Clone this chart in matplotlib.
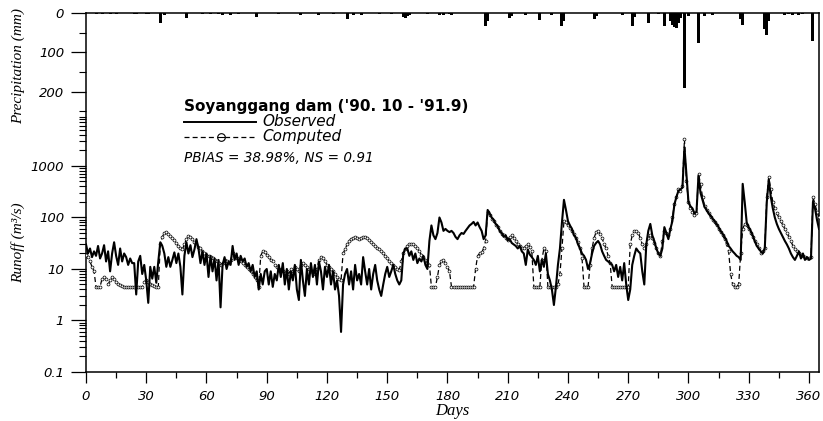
import numpy as np
import matplotlib
matplotlib.use("Agg")
import matplotlib.pyplot as plt
from matplotlib.lines import Line2D
from matplotlib.ticker import FixedLocator, NullFormatter, FixedFormatter

# ---------------- data ----------------
days = list(range(0, 366))

observed = [
    30, 20, 25, 17, 22, 18, 28, 16, 20, 29,
    14, 22, 9, 20, 33, 18, 12, 25, 14, 20,
    17, 12, 16, 13, 13, 3.2, 14, 18, 8, 12,
    6, 2.2, 11, 6.5, 11, 5.4, 14, 33, 28, 20,
    11, 17, 11, 15, 21, 13, 20, 11, 3.2, 18,
    33, 20, 29, 17, 24, 38, 25, 13, 22, 12,
    20, 7, 18, 9, 16, 6, 15, 1.8, 12, 17,
    10, 14, 12, 28, 15, 20, 12, 18, 14, 16,
    11, 13, 9, 12, 7, 9, 4, 8, 5, 9,
    10, 5, 9, 4.5, 8, 6, 12, 7, 13, 5,
    10, 4, 9, 6, 12, 4, 2.5, 15, 6, 3,
    10, 5, 13, 7, 12, 5, 14, 9, 4, 11,
    7, 12, 5, 9, 4, 6, 3, 0.6, 5, 8,
    10, 5, 9, 4, 12, 6, 8, 5, 17, 9,
    5, 10, 4, 8, 12, 6, 4, 3, 5, 8,
    11, 7, 9, 12, 8, 6, 5, 6, 20, 25,
    25, 18, 22, 15, 20, 13, 16, 14, 18, 12,
    10, 35, 70, 45, 38, 50, 100, 80, 55, 60,
    55, 52, 55, 50, 42, 38, 45, 50, 48, 55,
    62, 70, 75, 82, 70, 80, 65, 55, 38, 45,
    140, 120, 100, 90, 75, 68, 55, 50, 42, 45,
    36, 38, 32, 30, 28, 25, 28, 22, 20, 12,
    24, 19, 17, 15, 12, 18, 9, 15, 11, 20,
    8, 6, 4, 2, 4.5, 12, 25, 80, 220, 140,
    85, 70, 60, 45, 40, 30, 25, 20, 18, 15,
    10, 13, 20, 28, 32, 35, 30, 22, 18, 15,
    14, 13, 12, 9, 12, 7, 11, 6, 13, 5,
    2.5, 4, 12, 18, 25, 22, 20, 9, 5, 30,
    55, 75, 45, 35, 25, 20, 18, 25, 65, 50,
    38, 60, 85, 180, 250, 330, 350, 380, 2300, 700,
    200, 165, 150, 120, 130, 650, 300, 220, 160, 140,
    120, 110, 95, 85, 75, 65, 55, 48, 42, 35,
    28, 25, 22, 20, 18, 17, 15, 450, 200, 80,
    65, 55, 45, 35, 28, 25, 22, 20, 25, 200,
    550, 250, 150, 100, 75, 60, 50, 42, 35, 30,
    25, 20, 17, 15, 18, 22, 16, 20, 15, 17,
    15, 16, 200, 150, 90, 60,
]

computed = [
    19, 17, 14, 11, 9, 4.5, 4.5, 4.5, 6.5, 7,
    6.5, 5, 6, 7, 6.5, 5.5, 5, 4.8, 4.6, 4.5,
    4.5, 4.5, 4.5, 4.5, 4.5, 4.5, 4.5, 4.5, 4.5, 5.5,
    6, 5.5, 5, 4.8, 4.6, 4.5, 4.5, 30, 42, 50,
    52, 48, 44, 40, 36, 32, 28, 25, 24, 30,
    38, 43, 42, 38, 34, 30, 27, 25, 22, 20,
    19, 18, 17, 16, 15, 14, 13, 12, 13, 15,
    14, 13, 15, 20, 17, 16, 15, 14, 13, 12,
    11, 10, 9, 8, 7, 6, 4.5, 18, 22, 21,
    19, 17, 15, 14, 12, 11, 10, 9.5, 9, 8.5,
    9, 8, 10, 9, 11, 10, 9, 12, 13, 12,
    11, 10, 9, 8.5, 8, 10, 15, 17, 16, 14,
    12, 11, 10, 9, 8, 7, 6.5, 6, 20, 24,
    30, 35, 38, 40, 42, 40, 38, 40, 42, 42,
    40, 37, 34, 31, 28, 26, 24, 22, 20, 18,
    16, 14, 13, 12, 11, 10, 9.5, 14, 20, 24,
    28, 30, 31, 30, 28, 25, 22, 19, 17, 15,
    13, 12, 4.5, 4.5, 4.5, 7, 12, 14, 15, 13,
    11, 9, 4.5, 4.5, 4.5, 4.5, 4.5, 4.5, 4.5, 4.5,
    4.5, 4.5, 4.5, 4.5, 10, 18, 20, 21, 25, 35,
    130, 110, 95, 85, 72, 65, 55, 48, 45, 40,
    37, 42, 45, 40, 35, 30, 28, 26, 25, 28,
    30, 27, 22, 4.5, 4.5, 4.5, 4.5, 15, 25, 22,
    4.5, 4.5, 4.5, 4.5, 4.5, 5, 8, 25, 85, 80,
    70, 62, 55, 48, 40, 33, 25, 16, 4.5, 4.5,
    4.5, 12, 25, 40, 52, 55, 48, 40, 30, 25,
    18, 13, 4.5, 4.5, 4.5, 4.5, 4.5, 4.5, 4.5, 4.5,
    4.5, 30, 45, 55, 55, 50, 40, 30, 25, 30,
    40, 45, 40, 32, 25, 20, 18, 35, 55, 50,
    45, 60, 100, 180, 250, 350, 320, 400, 3300, 500,
    200, 150, 130, 110, 120, 700, 450, 250, 170, 140,
    120, 100, 90, 80, 70, 60, 52, 45, 38, 30,
    22, 8, 5, 4.5, 4.5, 5, 20, 60, 75, 70,
    60, 50, 42, 35, 30, 25, 20, 22, 25, 250,
    600, 350, 200, 150, 120, 100, 85, 70, 60, 50,
    42, 35, 28, 24, 22, 20, 19, 18, 17, 16,
    16, 17, 250, 180, 130, 100,
]

precip_days = [5, 8, 12, 15, 24, 25, 30, 31, 37, 39, 50, 58, 62, 66, 68, 72, 76,
               85, 96, 107, 116, 123, 130, 133, 137, 146, 152, 158, 159, 160,
               161, 170, 176, 178, 181, 182, 199, 200, 211, 212, 219, 226, 232,
               237, 238, 253, 254, 267, 272, 273, 280, 285, 288, 291, 292, 293,
               294, 295, 296, 298, 300, 305, 308, 312, 326, 327, 338, 339, 340,
               348, 350, 352, 355, 357, 362]
precip_mm = [2, 2, 2, 2, 3, 3, 3, 3, 25, 5, 13, 2, 2, 3, 4, 4, 2,
             11, 2, 4, 5, 2, 15, 4, 6, 2, 2, 10, 13, 8,
             6, 3, 4, 5, 3, 4, 34, 20, 13, 8, 5, 17, 4,
             32, 20, 15, 8, 4, 34, 10, 25, 3, 32, 20, 30, 35,
             38, 25, 12, 190, 8, 77, 8, 5, 15, 30, 40, 56, 20,
             4, 3, 5, 4, 3, 70]

x_ticks = [0, 30, 60, 90, 120, 150, 180, 210, 240, 270, 300, 330, 360]
runoff_ticks = [0.1, 1, 10, 100, 1000]
runoff_labels = ["0.1", "1", "10", "100", "1000"]
precip_ticks = [0, 100, 200]
precip_labels = ["0", "100", "200"]

# ---------------- figure ----------------
W, H = 823, 421
fig = plt.figure(figsize=(W / 100, H / 100), dpi=100)
fig.patch.set_facecolor("white")

left, right, top, bottom = 86, 819, 13, 372
ax = fig.add_axes([left / W, 1 - bottom / H, (right - left) / W, (bottom - top) / H])

# runoff (log)
ax.plot(days, computed, color="black", lw=0.9, dashes=(4, 2.5),
        marker="o", ms=2.1, mfc="white", mec="black", mew=0.5, zorder=3)
ax.plot(days, observed, color="black", lw=1.5, zorder=4)
ax.set_yscale("log")
ax.set_ylim(0.1, 10 ** 5.97)
ax.set_xlim(0, 365)

ax.yaxis.set_major_locator(FixedLocator(runoff_ticks))
ax.yaxis.set_major_formatter(FixedFormatter(runoff_labels))
minors = [m * 10.0 ** e for e in range(-1, 4) for m in range(2, 10)]
ax.yaxis.set_minor_locator(FixedLocator(minors))
ax.yaxis.set_minor_formatter(NullFormatter())

ax.xaxis.set_major_locator(FixedLocator(x_ticks))
ax.xaxis.set_minor_locator(FixedLocator([t + 15 for t in x_ticks[:-1]]))
ax.tick_params(axis="x", which="major", direction="out", length=8, width=0.9, pad=5)
ax.tick_params(axis="x", which="minor", direction="out", length=4.3, width=0.9)
ax.tick_params(axis="y", which="major", direction="out", length=10.8, width=0.9, pad=5)
ax.tick_params(axis="y", which="minor", direction="out", length=5, width=0.8)
for lab in ax.get_xticklabels() + ax.get_yticklabels():
    lab.set_fontfamily("DejaVu Sans")
    lab.set_fontstyle("oblique")
    lab.set_fontsize(9.5)
for sp in ax.spines.values():
    sp.set_linewidth(1.1)

# precipitation (inverted) on a twin axis, ticks on the left
axp = ax.twinx()
axp.bar(precip_days, precip_mm, width=1.5, color="black", align="center", zorder=2)
axp.set_ylim(912, 0)
axp.set_xlim(0, 365)
axp.yaxis.tick_left()
axp.yaxis.set_major_locator(FixedLocator(precip_ticks))
axp.yaxis.set_major_formatter(FixedFormatter(precip_labels))
axp.yaxis.set_minor_locator(FixedLocator([50, 150, 250]))
axp.tick_params(axis="y", which="major", direction="out", length=10.8, width=0.9, pad=5)
axp.tick_params(axis="y", which="minor", direction="out", length=5, width=0.8)
for lab in axp.get_yticklabels():
    lab.set_fontfamily("DejaVu Sans")
    lab.set_fontstyle("oblique")
    lab.set_fontsize(9.5)
for sp in axp.spines.values():
    sp.set_visible(False)

# axis labels
serif = dict(family="Liberation Serif", style="italic")
fig.text(18 / W, 1 - 66 / H, "Precipitation (mm)", rotation=90, ha="center", va="center",
         fontsize=11, **serif)
fig.text(18 / W, 1 - 243 / H, "Runoff (m³/s)", rotation=90, ha="center", va="center",
         fontsize=11, **serif)
fig.text(452 / W, 1 - 411 / H, "Days", ha="center", va="center", fontsize=12, **serif)

# manual legend
def fx(px):
    return px / W

def fy(py):
    return 1 - py / H

fig.text(fx(184), fy(107), "Soyanggang dam ('90. 10 - '91.9)", ha="left", va="center",
         fontsize=11, fontweight="bold", family="DejaVu Sans")
fig.add_artist(Line2D([fx(184), fx(256)], [fy(121.5), fy(121.5)], color="black", lw=1.4,
                      transform=fig.transFigure))
fig.text(fx(262), fy(121.5), "Observed", ha="left", va="center", fontsize=11,
         family="DejaVu Sans", style="oblique")
fig.add_artist(Line2D([fx(184), fx(256)], [fy(137), fy(137)], color="black", lw=0.9,
                      dashes=(4, 2.5), transform=fig.transFigure))
fig.add_artist(Line2D([fx(221)], [fy(137)], color="black", marker="o", ms=5.5,
                      mfc="white", mec="black", mew=0.8, transform=fig.transFigure))
fig.add_artist(Line2D([fx(218), fx(224)], [fy(137), fy(137)], color="black", lw=0.8,
                      transform=fig.transFigure))
fig.text(fx(262), fy(137), "Computed", ha="left", va="center", fontsize=11,
         family="DejaVu Sans", style="oblique")
fig.text(fx(184), fy(158.5), "PBIAS = 38.98%, NS = 0.91", ha="left", va="center", fontsize=9.8,
         family="DejaVu Sans", style="oblique")

fig.savefig("out.png", dpi=100, facecolor="white")
